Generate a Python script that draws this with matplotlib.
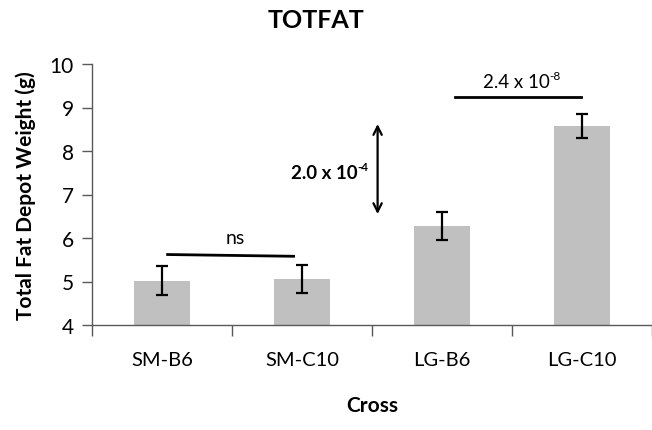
import matplotlib
matplotlib.use("Agg")
import matplotlib.pyplot as plt
from matplotlib.ticker import FixedLocator, NullFormatter

plt.rcParams['font.family'] = ['Lato', 'DejaVu Sans']

categories = ["SM-B6", "SM-C10", "LG-B6", "LG-C10"]
means = [5.02, 5.06, 6.27, 8.57]
errors = [0.33, 0.33, 0.32, 0.28]
title = "TOTFAT"
xlabel = "Cross"
ylabel = "Total Fat Depot Weight (g)"
yticks = [4, 5, 6, 7, 8, 9, 10]

fig = plt.figure(figsize=(6.52, 4.31), dpi=100)
ax = fig.add_axes([92/652, 105/431, 560/652, 261/431])

x = list(range(len(categories)))
ax.bar(x, [m - 4 for m in means], bottom=4, width=0.40, color="#c0c0c0", zorder=2)
ax.errorbar(x, means, yerr=errors, fmt="none", ecolor="black", elinewidth=1.6,
            capsize=4, capthick=1.6, zorder=3)

ax.set_xlim(-0.5, 3.5)
ax.set_ylim(4, 10)
ax.set_yticks(yticks)
ax.tick_params(axis="y", direction="out", length=7, width=1, color="#595959",
               labelsize=15, pad=6)
ax.xaxis.set_major_locator(FixedLocator([-0.5, 0.5, 1.5, 2.5, 3.5]))
ax.xaxis.set_major_formatter(NullFormatter())
ax.xaxis.set_minor_locator(FixedLocator(x))
ax.set_xticklabels(categories, minor=True)
ax.tick_params(axis="x", which="major", direction="out", length=8, width=1, color="#595959")
ax.tick_params(axis="x", which="minor", length=0, labelsize=14.5, pad=19)

for s in ["top", "right"]:
    ax.spines[s].set_visible(False)
for s in ["left", "bottom"]:
    ax.spines[s].set_color("#595959")
    ax.spines[s].set_linewidth(1)

ax.set_xlabel(xlabel, fontsize=15, fontweight="bold", labelpad=19)
ax.set_ylabel(ylabel, fontsize=15, fontweight="bold", labelpad=10)
fig.text(316/652, 1 - 20/431, title, fontsize=18, fontweight="bold",
         ha="center", va="center")

# annotations
ax.plot([0.04, 0.94], [5.62, 5.58], color="black", lw=2, zorder=3)
ax.text(0.52, 6.02, "ns", ha="center", va="center", fontsize=14)

ax.annotate("", xy=(1.54, 8.62), xytext=(1.54, 6.55),
            arrowprops=dict(arrowstyle="<->,head_length=0.6,head_width=0.3",
                            color="black", lw=1.6, shrinkA=0, shrinkB=0))
t1 = ax.text(1.40, 7.51, "2.0 x 10", ha="right", va="center",
             fontsize=13.5, fontweight="bold")
ax.annotate("-4", xy=(0.99, 0.85), xycoords=t1, ha="left", va="center",
            fontsize=8.5, fontweight="bold")

ax.plot([2.09, 2.99], [9.24, 9.24], color="black", lw=2, zorder=3)
t2 = ax.text(2.53, 9.59, "2.4 x 10", ha="center", va="center", fontsize=13.5)
ax.annotate("-8", xy=(0.99, 0.85), xycoords=t2, ha="left", va="center",
            fontsize=8.5)

fig.savefig("out.png", dpi=100)
